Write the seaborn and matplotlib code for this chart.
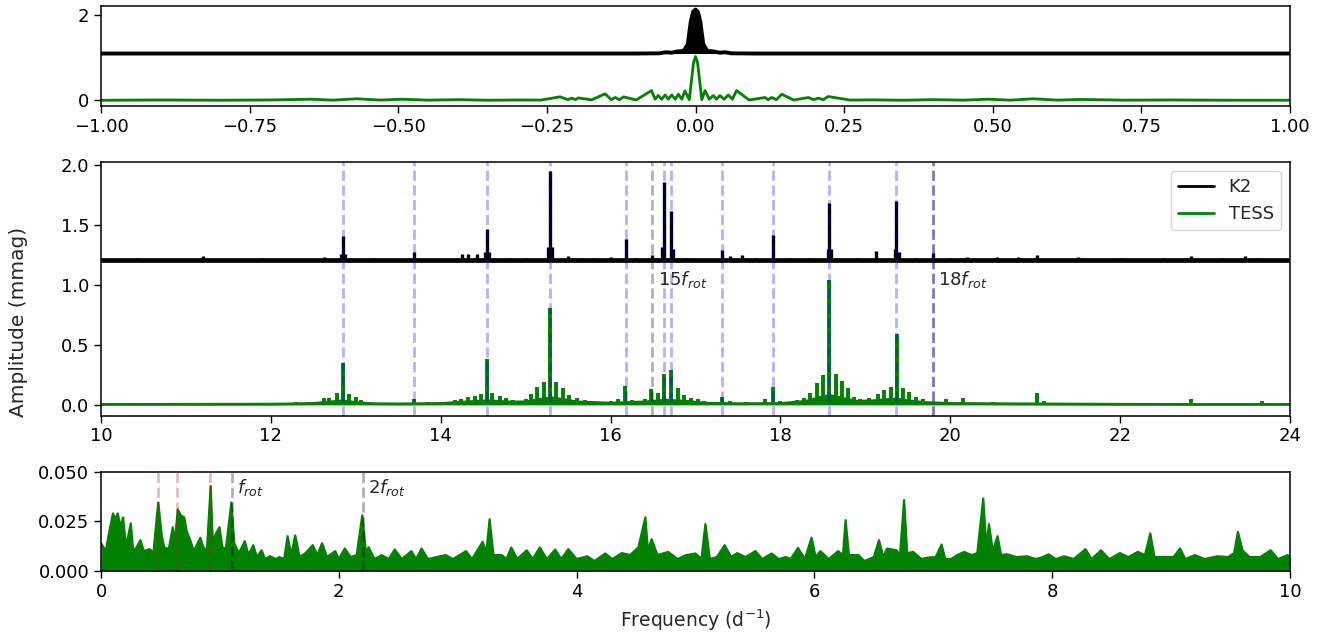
import numpy as np
import matplotlib
matplotlib.use('Agg')
import matplotlib.pyplot as plt
from matplotlib.lines import Line2D
import seaborn as sns

# ---- values ----
F_ROT = 1.0995            # rotation frequency (d^-1)
K2_WIN_OFFSET = 1.1       # vertical shift of the K2 curves
K2_OFFSET = 1.2

# spectral windows (top panel)
win_k2_freq = [-1.0, -0.5, -0.2, -0.1, -0.06, -0.05, -0.04, -0.03, -0.02, -0.013, -0.008, -0.004,
               0.0, 0.004, 0.008, 0.013, 0.02, 0.03, 0.04, 0.05, 0.06, 0.1, 0.2, 0.5, 1.0]
win_k2_amp = [0.0, 0.0, 0.0, 0.0, 0.005, 0.03, 0.02, 0.05, 0.06, 0.22, 0.75, 0.98,
              1.03, 0.98, 0.75, 0.22, 0.06, 0.05, 0.02, 0.03, 0.005, 0.0, 0.0, 0.0, 0.0]
win_tess_freq = [-1.0, -0.9, -0.8, -0.72, -0.646, -0.61, -0.57, -0.53, -0.494, -0.45, -0.40, -0.35,
                 -0.30, -0.26, -0.228, -0.215, -0.208, -0.202, -0.197, -0.175, -0.152, -0.142,
                 -0.135, -0.128, -0.121, -0.10, -0.074, -0.068, -0.063, -0.057, -0.051, -0.046,
                 -0.040, -0.034, -0.029, -0.023, -0.018, -0.0105, -0.007, -0.0035, 0.0, 0.0035,
                 0.007, 0.0105, 0.016, 0.023, 0.030, 0.035, 0.041, 0.048, 0.055, 0.062, 0.069,
                 0.09, 0.117, 0.122, 0.128, 0.136, 0.145, 0.165, 0.190, 0.198, 0.207, 0.215,
                 0.223, 0.26, 0.30, 0.35, 0.40, 0.45, 0.4925, 0.53, 0.568, 0.61, 0.647, 0.72,
                 0.8, 0.9, 1.0]
win_tess_amp = [0.005, 0.012, 0.006, 0.012, 0.03, 0.008, 0.04, 0.01, 0.03, 0.008, 0.02, 0.006,
                0.012, 0.01, 0.086, 0.02, 0.055, 0.02, 0.06, 0.015, 0.156, 0.02,
                0.07, 0.02, 0.086, 0.012, 0.233, 0.03, 0.117, 0.03, 0.13, 0.03,
                0.13, 0.03, 0.148, 0.03, 0.226, 0.02, 0.45, 0.88, 1.03, 0.88,
                0.45, 0.02, 0.233, 0.03, 0.117, 0.03, 0.117, 0.03, 0.13, 0.03, 0.233,
                0.012, 0.07, 0.02, 0.07, 0.02, 0.148, 0.012, 0.07, 0.02, 0.055, 0.02,
                0.093, 0.01, 0.014, 0.006, 0.02, 0.008, 0.03, 0.008, 0.04, 0.008, 0.025, 0.008,
                0.012, 0.006, 0.006]

# pulsation modes and rotation harmonics (middle panel)
mode_freqs = [12.849, 13.685, 14.545, 15.287, 16.18, 16.628, 16.708, 17.31, 17.91, 18.575,
              19.365, 19.80]
mid_harmonics = [15, 18]
mid_labels = ['15$f_{rot}$', '18$f_{rot}$']

k2_peak_freq = [10.42, 10.9, 11.2, 11.9, 12.62, 12.83, 12.849, 12.87, 13.2, 13.685, 14.0, 14.247,
                14.325, 14.424, 14.525, 14.545, 14.57, 14.8, 15.0, 15.26, 15.287, 15.31, 15.5,
                15.65, 15.8, 16.0, 16.18, 16.3, 16.49, 16.605, 16.628, 16.708, 16.73, 16.9,
                17.31, 17.4, 17.544, 17.7, 17.91, 18.1, 18.35, 18.555, 18.575, 18.60, 18.9,
                19.13, 19.345, 19.365, 19.39, 19.6, 19.80, 20.0, 20.2, 20.55, 20.8, 21.02,
                21.5, 22.0, 22.5, 22.83, 23.2, 23.47, 23.6]
k2_peak_amp = [0.03, 0.02, 0.045, 0.025, 0.035, 0.06, 0.212, 0.06, 0.025, 0.072, 0.02, 0.059,
               0.059, 0.059, 0.08, 0.27, 0.08, 0.03, 0.03, 0.12, 0.749, 0.12, 0.04,
               0.03, 0.03, 0.035, 0.184, 0.03, 0.05, 0.12, 0.66, 0.415, 0.1, 0.03,
               0.095, 0.04, 0.05, 0.03, 0.22, 0.03, 0.03, 0.1, 0.485, 0.1, 0.03,
               0.081, 0.1, 0.50, 0.08, 0.03, 0.067, 0.03, 0.035, 0.035, 0.035, 0.05,
               0.035, 0.025, 0.03, 0.04, 0.025, 0.04, 0.03]

tess_peak_freq = [12.30, 12.45, 12.622, 12.68, 12.776, 12.848, 12.92, 13.002, 13.064, 13.689,
                  13.85, 14.0, 14.169, 14.241, 14.323, 14.40, 14.472, 14.55, 14.603, 14.698,
                  14.77, 14.85, 15.0, 15.058, 15.131, 15.213, 15.289, 15.361, 15.434, 15.515,
                  15.602, 15.7, 16.0, 16.092, 16.173, 16.246, 16.40, 16.477, 16.558, 16.626,
                  16.708, 16.789, 16.861, 16.948, 17.03, 17.1, 17.313, 17.4, 17.6, 17.823,
                  17.918, 18.0, 18.2, 18.28, 18.352, 18.428, 18.50, 18.577, 18.649, 18.726,
                  18.793, 18.866, 18.937, 19.0, 19.048, 19.144, 19.225, 19.298, 19.37, 19.447,
                  19.519, 19.60, 19.68, 19.95, 20.15, 20.5, 21.017, 21.1, 22.83, 23.67]
tess_peak_amp = [0.02, 0.025, 0.056, 0.06, 0.098, 0.353, 0.09, 0.065, 0.04, 0.047,
                 0.02, 0.025, 0.04, 0.05, 0.07, 0.075, 0.09, 0.384, 0.103, 0.075,
                 0.06, 0.04, 0.05, 0.092, 0.153, 0.195, 0.81, 0.195, 0.14, 0.084,
                 0.06, 0.04, 0.03, 0.05, 0.159, 0.04, 0.05, 0.131, 0.103, 0.259,
                 0.292, 0.14, 0.08, 0.06, 0.045, 0.03, 0.07, 0.03, 0.025, 0.05,
                 0.148, 0.03, 0.04, 0.06, 0.10, 0.181, 0.251, 1.039, 0.259, 0.203,
                 0.14, 0.07, 0.05, 0.04, 0.06, 0.092, 0.125, 0.153, 0.59, 0.14,
                 0.11, 0.07, 0.045, 0.05, 0.06, 0.02, 0.098, 0.03, 0.045, 0.03]

tess_floor_freq = [10, 11, 12, 12.5, 12.7, 12.85, 13.0, 13.2, 13.5, 14, 14.3, 14.55, 14.8, 15.0,
                   15.15, 15.3, 15.45, 15.6, 16, 16.4, 16.65, 16.9, 17.1, 17.5, 18, 18.3,
                   18.45, 18.58, 18.7, 18.9, 19.1, 19.25, 19.37, 19.5, 19.7, 20, 21, 22, 23, 24]
tess_floor_amp = [0.004, 0.005, 0.006, 0.012, 0.025, 0.035, 0.02, 0.01, 0.008, 0.012, 0.025,
                  0.035, 0.025, 0.025, 0.045, 0.06, 0.045, 0.025, 0.015, 0.025, 0.04, 0.03,
                  0.015, 0.01, 0.012, 0.03, 0.06, 0.08, 0.06, 0.03, 0.035, 0.045, 0.05,
                  0.035, 0.02, 0.012, 0.008, 0.005, 0.004, 0.004]
k2_floor_freq = [10, 24]
k2_floor_amp = [0.008, 0.008]

# low-frequency TESS spectrum (bottom panel), upper envelope
low_freq = [0.00, 0.04, 0.07, 0.10, 0.12, 0.14, 0.165, 0.185, 0.21, 0.25, 0.27, 0.30, 0.33, 0.36,
            0.41, 0.44, 0.481, 0.51, 0.53, 0.57, 0.603, 0.62, 0.645, 0.67, 0.70, 0.72, 0.75,
            0.78, 0.835, 0.86, 0.89, 0.922, 0.94, 0.96, 0.996, 1.02, 1.05, 1.096, 1.12, 1.16,
            1.209, 1.24, 1.28, 1.31, 1.35, 1.38, 1.42, 1.47, 1.50, 1.54, 1.569, 1.60, 1.633,
            1.67, 1.72, 1.78, 1.82, 1.859, 1.90, 1.97, 2.00, 2.05, 2.10, 2.15, 2.197, 2.23,
            2.25, 2.30, 2.36, 2.42, 2.47, 2.53, 2.61, 2.65, 2.695, 2.75, 2.82, 2.90, 2.96,
            3.07, 3.12, 3.21, 3.24, 3.268, 3.30, 3.37, 3.41, 3.45, 3.50, 3.58, 3.63, 3.69,
            3.75, 3.82, 3.87, 3.93, 4.00, 4.09, 4.15, 4.24, 4.30, 4.38, 4.45, 4.52, 4.578,
            4.60, 4.63, 4.68, 4.77, 4.85, 4.92, 5.00, 5.05, 5.083, 5.12, 5.18, 5.245, 5.30,
            5.35, 5.42, 5.505, 5.56, 5.64, 5.70, 5.76, 5.80, 5.862, 5.92, 5.976, 6.01, 6.05,
            6.12, 6.20, 6.24, 6.262, 6.29, 6.37, 6.42, 6.50, 6.543, 6.58, 6.61, 6.69, 6.72,
            6.754, 6.78, 6.83, 6.90, 6.95, 7.02, 7.069, 7.10, 7.15, 7.20, 7.26, 7.32, 7.37,
            7.42, 7.445, 7.468, 7.50, 7.54, 7.57, 7.62, 7.70, 7.79, 7.86, 7.92, 7.97, 8.03,
            8.10, 8.18, 8.28, 8.33, 8.41, 8.48, 8.57, 8.64, 8.72, 8.78, 8.825, 8.86, 8.95,
            9.02, 9.075, 9.12, 9.20, 9.28, 9.39, 9.48, 9.53, 9.562, 9.60, 9.66, 9.75, 9.837,
            9.90, 9.98, 10.0]
low_amp = [0.014, 0.010, 0.020, 0.029, 0.026, 0.029, 0.022, 0.027, 0.012, 0.024, 0.010, 0.012,
           0.0155, 0.010, 0.011, 0.009, 0.0345, 0.018, 0.012, 0.011, 0.022, 0.014, 0.031, 0.028,
           0.027, 0.020, 0.0155, 0.010, 0.0167, 0.012, 0.010, 0.0428, 0.014, 0.018, 0.022,
           0.012, 0.011, 0.0345, 0.014, 0.009, 0.015, 0.008, 0.013, 0.007, 0.0104, 0.006,
           0.0074, 0.006, 0.007, 0.006, 0.0175, 0.008, 0.0179, 0.007, 0.009, 0.013, 0.008,
           0.014, 0.007, 0.010, 0.006, 0.0113, 0.007, 0.008, 0.028, 0.008, 0.012, 0.006,
           0.008, 0.006, 0.0108, 0.006, 0.010, 0.006, 0.0113, 0.006, 0.007, 0.008, 0.006,
           0.010, 0.006, 0.0147, 0.009, 0.026, 0.008, 0.008, 0.006, 0.0118, 0.006, 0.0104,
           0.006, 0.0118, 0.006, 0.0108, 0.006, 0.011, 0.006, 0.0074, 0.005, 0.0088, 0.006,
           0.009, 0.008, 0.012, 0.027, 0.010, 0.016, 0.008, 0.0096, 0.006, 0.008, 0.0088,
           0.006, 0.0236, 0.006, 0.007, 0.013, 0.007, 0.009, 0.007, 0.010, 0.006, 0.0088,
           0.006, 0.007, 0.006, 0.0116, 0.006, 0.0168, 0.007, 0.010, 0.006, 0.010, 0.008,
           0.0256, 0.008, 0.008, 0.005, 0.007, 0.0155, 0.007, 0.0113, 0.0104, 0.008, 0.0357,
           0.009, 0.0096, 0.006, 0.0067, 0.007, 0.0133, 0.006, 0.006, 0.008, 0.0096, 0.008,
           0.009, 0.0365, 0.012, 0.0236, 0.010, 0.0175, 0.008, 0.0084, 0.007, 0.0074, 0.006,
           0.007, 0.0084, 0.006, 0.0074, 0.006, 0.011, 0.006, 0.0104, 0.006, 0.009, 0.007,
           0.0096, 0.008, 0.0189, 0.007, 0.0071, 0.007, 0.0113, 0.006, 0.008, 0.006, 0.0074,
           0.007, 0.009, 0.0197, 0.0104, 0.007, 0.007, 0.0104, 0.006, 0.008, 0.007]
low_marks = [0.479, 0.639, 0.917]
low_harmonics = [1, 2]
low_labels = ['$f_{rot}$', '2$f_{rot}$']

# ---- plotting ----
sns.set_style('ticks')
plt.rcParams['font.family'] = ['DejaVu Sans']
plt.rcParams['axes.edgecolor'] = 'black'
plt.rcParams['xtick.color'] = 'black'
plt.rcParams['ytick.color'] = 'black'
plt.rcParams['font.size'] = 13
plt.rcParams['mathtext.fontset'] = 'dejavusans'

fig = plt.figure(figsize=(13.35, 6.35), dpi=100)
ax_top = fig.add_axes([0.0757, 0.833, 0.8906, 0.158])
ax_mid = fig.add_axes([0.0757, 0.3454, 0.8906, 0.400])
ax_low = fig.add_axes([0.0757, 0.1008, 0.8906, 0.1564])

GREEN = 'green'

# top: spectral windows
k2_win = K2_WIN_OFFSET + np.array(win_k2_amp)
ax_top.fill_between(win_k2_freq, K2_WIN_OFFSET, k2_win, color='k', lw=0)
sns.lineplot(x=win_k2_freq, y=k2_win, ax=ax_top, color='k', lw=2.8,
             estimator=None, sort=False)
sns.lineplot(x=win_tess_freq, y=win_tess_amp, ax=ax_top, color=GREEN, lw=2,
             estimator=None, sort=False)
ax_top.set_xlim(-1, 1)
ax_top.set_ylim(-0.13, 2.22)
ax_top.set_xticks(np.arange(-1, 1.01, 0.25))
ax_top.set_xticklabels([f'{v:.2f}'.replace('-', '\u2212') for v in np.arange(-1, 1.01, 0.25)])
ax_top.set_yticks([0, 2])

# middle: amplitude spectra around the pulsation modes
k2_floor = K2_OFFSET + np.array(k2_floor_amp)
sns.lineplot(x=k2_floor_freq, y=k2_floor, ax=ax_mid, color='k', lw=3.4, estimator=None)
ax_mid.vlines(k2_peak_freq, K2_OFFSET, K2_OFFSET + np.array(k2_peak_amp),
              color='k', lw=2.4, capstyle='butt')
ax_mid.fill_between(tess_floor_freq, 0, tess_floor_amp, color=GREEN, lw=0)
sns.lineplot(x=tess_floor_freq, y=tess_floor_amp, ax=ax_mid, color=GREEN, lw=2, estimator=None)
ax_mid.vlines(tess_peak_freq, 0, tess_peak_amp, color=GREEN, lw=2.8, capstyle='butt')

for f in mode_freqs:
    ax_mid.axvline(f, color='b', alpha=0.3, ls='--', lw=2)
for h, lab in zip(mid_harmonics, mid_labels):
    ax_mid.axvline(h * F_ROT, color='k', alpha=0.3, ls='--', lw=2)
    ax_mid.text(h * F_ROT + 0.06, 1.05, lab, va='center', ha='left', fontsize=13)

ax_mid.set_xlim(10, 24)
ax_mid.set_ylim(-0.09, 2.03)
ax_mid.set_yticks([0.0, 0.5, 1.0, 1.5, 2.0])
ax_mid.set_yticklabels(['0.0', '0.5', '1.0', '1.5', '2.0'])
handles = [Line2D([], [], color='k', lw=2), Line2D([], [], color=GREEN, lw=2)]
ax_mid.legend(handles, ['K2', 'TESS'], loc='upper right', fontsize=13, frameon=True)

# bottom: low-frequency TESS spectrum
ax_low.fill_between(low_freq, 0, low_amp, color=GREEN, lw=0)
sns.lineplot(x=low_freq, y=low_amp, ax=ax_low, color=GREEN, lw=1.6, estimator=None)
for f in low_marks:
    ax_low.axvline(f, color='brown', alpha=0.3, ls='--', lw=2)
for h, lab in zip(low_harmonics, low_labels):
    ax_low.axvline(h * F_ROT, color='k', alpha=0.3, ls='--', lw=2)
    ax_low.text(h * F_ROT + 0.045, 0.042, lab, va='center', ha='left', fontsize=13)
ax_low.set_xlim(0, 10)
ax_low.set_ylim(0, 0.05)
ax_low.set_yticks([0.0, 0.025, 0.05])
ax_low.set_yticklabels(['0.000', '0.025', '0.050'])
ax_low.set_xlabel('Frequency (d$^{-1}$)', fontsize=13.5, labelpad=5)

for ax in (ax_top, ax_mid, ax_low):
    ax.tick_params(labelsize=13, length=5, width=1)
    for sp in ax.spines.values():
        sp.set_linewidth(1.1)

fig.text(0.0135, 0.493, 'Amplitude (mmag)', rotation=90, va='center', ha='center', fontsize=14.5)

fig.savefig('out.png', dpi=100)
